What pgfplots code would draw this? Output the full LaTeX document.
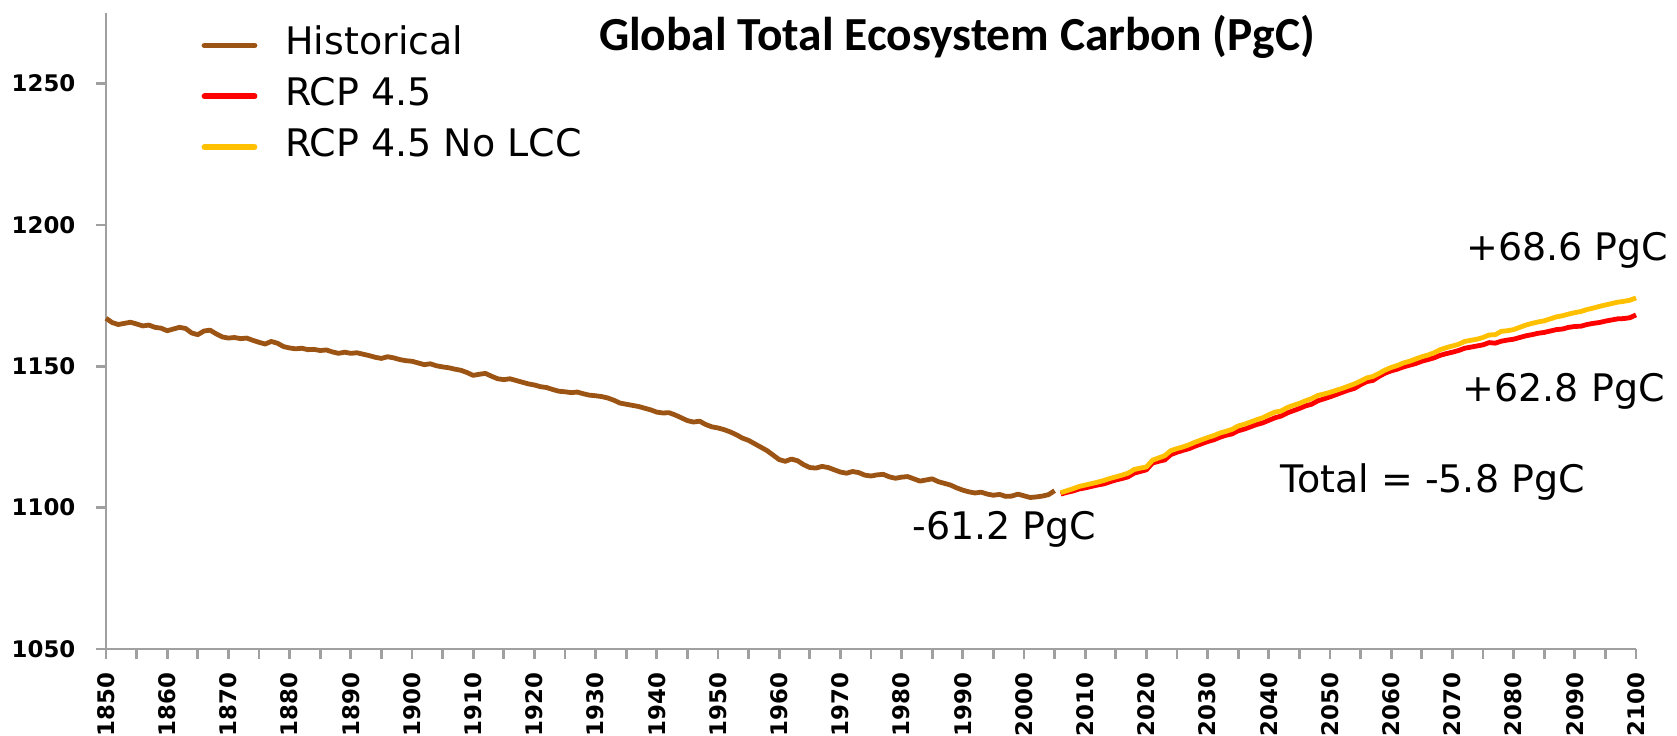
\documentclass[border=0pt]{standalone}
\usepackage{fontspec}
\setmainfont{DejaVu Sans}
\newfontfamily\titlefont{Carlito}
\usepackage{pgfplots}
\pgfplotsset{compat=1.18}
\definecolor{histbrown}{RGB}{156,84,20}
\definecolor{rcpred}{RGB}{255,0,0}
\definecolor{nolccyellow}{RGB}{255,192,0}
\definecolor{axgray}{RGB}{160,160,160}
\begin{document}
\begin{tikzpicture}
\path[use as bounding box] (0,0) rectangle (16.77cm,7.35cm);
\begin{axis}[
  at={(1.06cm,0.86cm)}, anchor=south west,
  scale only axis, width=15.30cm, height=6.36cm,
  xmin=1850, xmax=2100, ymin=1050, ymax=1275,
  axis x line*=bottom, axis y line*=left,
  axis line style={-, draw=axgray, line width=0.27mm},
  xtick={1850,1860,...,2100}, minor xtick={1855,1865,...,2095},
  ytick={1050,1100,...,1250},
  tick align=outside, major tick length=1mm, minor tick length=1mm,
  tick style={draw=axgray, line width=0.27mm},
  /pgf/number format/assume math mode=true,
  /pgf/number format/1000 sep={},
  ticklabel style={font=\bfseries\fontsize{6.5}{7}\selectfont},
  xticklabel style={rotate=90, anchor=east, inner sep=0pt},
  yticklabel style={anchor=east, inner sep=0pt},
  xticklabel shift=1.3mm, yticklabel shift=2mm,
  clip=false,
  legend style={draw=none, fill=none, at={(0.0625,0.985)}, anchor=north west,
    inner sep=0pt, outer sep=0pt, row sep=0.98mm,
    font=\fontsize{10.8}{12}\selectfont,
    nodes={inner sep=0pt, text height=3.2mm, text depth=0.9mm, anchor=base west},
    /tikz/every odd column/.append style={column sep=2.8mm}},
  legend cell align=left,
  legend image code/.code={\draw[line width=0.58mm, line cap=round] (0mm,0.9mm) -- (5.0mm,0.9mm);},
]
\addplot[histbrown, line width=0.48mm, line join=round] table {
1850 1167.0
1851 1165.5
1852 1164.8
1853 1165.2
1854 1165.6
1855 1165.0
1856 1164.3
1857 1164.6
1858 1163.8
1859 1163.5
1860 1162.6
1861 1163.2
1862 1163.8
1863 1163.4
1864 1161.8
1865 1161.2
1866 1162.5
1867 1162.8
1868 1161.5
1869 1160.4
1870 1160.0
1871 1160.2
1872 1159.8
1873 1160.0
1874 1159.2
1875 1158.5
1876 1157.9
1877 1158.8
1878 1158.2
1879 1157.0
1880 1156.5
1881 1156.2
1882 1156.4
1883 1155.9
1884 1156.0
1885 1155.6
1886 1155.8
1887 1155.1
1888 1154.6
1889 1155.0
1890 1154.6
1891 1154.8
1892 1154.3
1893 1153.8
1894 1153.2
1895 1152.8
1896 1153.4
1897 1153.0
1898 1152.4
1899 1152.0
1900 1151.8
1901 1151.2
1902 1150.6
1903 1150.9
1904 1150.2
1905 1149.8
1906 1149.5
1907 1149.0
1908 1148.6
1909 1147.8
1910 1146.8
1911 1147.2
1912 1147.5
1913 1146.5
1914 1145.6
1915 1145.3
1916 1145.6
1917 1145.0
1918 1144.4
1919 1143.8
1920 1143.4
1921 1142.8
1922 1142.5
1923 1141.8
1924 1141.2
1925 1141.0
1926 1140.7
1927 1140.9
1928 1140.3
1929 1139.8
1930 1139.6
1931 1139.3
1932 1138.8
1933 1138.0
1934 1137.0
1935 1136.6
1936 1136.2
1937 1135.8
1938 1135.2
1939 1134.6
1940 1133.8
1941 1133.5
1942 1133.6
1943 1132.8
1944 1131.8
1945 1130.8
1946 1130.3
1947 1130.6
1948 1129.4
1949 1128.6
1950 1128.2
1951 1127.6
1952 1126.8
1953 1125.8
1954 1124.6
1955 1123.8
1956 1122.6
1957 1121.4
1958 1120.2
1959 1118.6
1960 1117.0
1961 1116.4
1962 1117.2
1963 1116.6
1964 1115.2
1965 1114.2
1966 1114.0
1967 1114.6
1968 1114.2
1969 1113.4
1970 1112.6
1971 1112.2
1972 1112.8
1973 1112.4
1974 1111.5
1975 1111.2
1976 1111.6
1977 1111.8
1978 1110.9
1979 1110.4
1980 1110.8
1981 1111.0
1982 1110.2
1983 1109.4
1984 1109.8
1985 1110.2
1986 1109.2
1987 1108.6
1988 1108.0
1989 1107.0
1990 1106.2
1991 1105.6
1992 1105.2
1993 1105.5
1994 1104.8
1995 1104.4
1996 1104.7
1997 1104.0
1998 1104.1
1999 1104.8
2000 1104.2
2001 1103.6
2002 1103.8
2003 1104.1
2004 1104.6
2005 1106.0
};
\addlegendentry{Historical}
\addplot[rcpred, line width=0.48mm, line join=round] table {
2006 1104.8
2007 1105.4
2008 1105.9
2009 1106.6
2010 1107.0
2011 1107.5
2012 1108.0
2013 1108.4
2014 1109.1
2015 1109.8
2016 1110.3
2017 1110.9
2018 1112.2
2019 1112.8
2020 1113.4
2021 1115.8
2022 1116.4
2023 1116.9
2024 1118.8
2025 1119.6
2026 1120.3
2027 1120.9
2028 1121.8
2029 1122.6
2030 1123.4
2031 1124.0
2032 1124.9
2033 1125.6
2034 1126.1
2035 1127.2
2036 1127.8
2037 1128.6
2038 1129.4
2039 1130.0
2040 1130.9
2041 1131.8
2042 1132.4
2043 1133.5
2044 1134.3
2045 1135.1
2046 1136.0
2047 1136.6
2048 1137.8
2049 1138.5
2050 1139.2
2051 1140.0
2052 1140.8
2053 1141.6
2054 1142.2
2055 1143.5
2056 1144.6
2057 1145.0
2058 1146.4
2059 1147.6
2060 1148.4
2061 1149.0
2062 1149.8
2063 1150.4
2064 1151.0
2065 1151.8
2066 1152.4
2067 1153.0
2068 1153.9
2069 1154.5
2070 1155.0
2071 1155.6
2072 1156.4
2073 1156.8
2074 1157.2
2075 1157.6
2076 1158.4
2077 1158.2
2078 1158.9
2079 1159.3
2080 1159.6
2081 1160.2
2082 1160.8
2083 1161.2
2084 1161.7
2085 1162.0
2086 1162.5
2087 1163.0
2088 1163.2
2089 1163.8
2090 1164.1
2091 1164.2
2092 1164.8
2093 1165.2
2094 1165.5
2095 1166.0
2096 1166.4
2097 1166.8
2098 1166.9
2099 1167.2
2100 1168.2
};
\addlegendentry{RCP 4.5}
\addplot[nolccyellow, line width=0.48mm, line join=round] table {
2006 1105.3
2007 1106.0
2008 1106.7
2009 1107.5
2010 1108.0
2011 1108.5
2012 1109.0
2013 1109.6
2014 1110.3
2015 1110.9
2016 1111.5
2017 1112.2
2018 1113.5
2019 1114.0
2020 1114.4
2021 1116.8
2022 1117.6
2023 1118.4
2024 1120.2
2025 1120.9
2026 1121.5
2027 1122.3
2028 1123.2
2029 1124.0
2030 1124.8
2031 1125.5
2032 1126.4
2033 1127.0
2034 1127.7
2035 1128.9
2036 1129.5
2037 1130.3
2038 1131.1
2039 1131.8
2040 1132.9
2041 1133.8
2042 1134.2
2043 1135.4
2044 1136.2
2045 1136.9
2046 1137.8
2047 1138.6
2048 1139.7
2049 1140.2
2050 1140.8
2051 1141.5
2052 1142.2
2053 1143.0
2054 1143.8
2055 1144.8
2056 1145.9
2057 1146.4
2058 1147.5
2059 1148.7
2060 1149.6
2061 1150.3
2062 1151.2
2063 1151.8
2064 1152.6
2065 1153.4
2066 1154.0
2067 1154.8
2068 1155.9
2069 1156.6
2070 1157.2
2071 1157.8
2072 1158.8
2073 1159.2
2074 1159.6
2075 1160.2
2076 1161.1
2077 1161.2
2078 1162.4
2079 1162.6
2080 1163.0
2081 1163.8
2082 1164.6
2083 1165.2
2084 1165.7
2085 1166.1
2086 1166.8
2087 1167.5
2088 1167.9
2089 1168.5
2090 1169.0
2091 1169.4
2092 1170.1
2093 1170.6
2094 1171.2
2095 1171.7
2096 1172.2
2097 1172.7
2098 1173.0
2099 1173.4
2100 1174.2
};
\addlegendentry{RCP 4.5 No LCC}
\node[anchor=base, inner sep=0pt, font=\titlefont\bfseries\fontsize{13.5}{15}\selectfont] at (axis cs:1989.05,1261.9) {Global Total Ecosystem Carbon (PgC)};
\node[anchor=base, inner sep=0pt, font=\fontsize{10.8}{12}\selectfont] at (axis cs:1996.8,1088.6) {-61.2 PgC};
\node[anchor=base east, inner sep=0pt, font=\fontsize{10.8}{12}\selectfont] at (axis cs:2105.4,1187.3) {+68.6 PgC};
\node[anchor=base east, inner sep=0pt, font=\fontsize{10.8}{12}\selectfont] at (axis cs:2104.8,1137.7) {+62.8 PgC};
\node[anchor=base west, inner sep=0pt, font=\fontsize{10.8}{12}\selectfont] at (axis cs:2041.8,1105.2) {Total = -5.8 PgC};
\end{axis}
\end{tikzpicture}
\end{document}
